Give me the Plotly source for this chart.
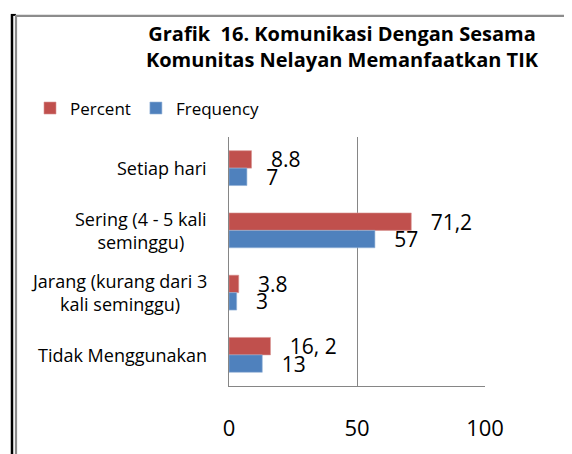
import plotly.graph_objects as go

categories = ["Setiap hari", "Sering (4 - 5 kali<br>seminggu)",
              "Jarang (kurang dari 3<br>kali seminggu)", "Tidak Menggunakan"]
percent = [8.8, 71.2, 3.8, 16.2]
frequency = [7, 57, 3, 13]
percent_labels = ["8.8", "71,2", "3.8", "16, 2"]
frequency_labels = ["7", "57", "3", "13"]
x_ticks = [0, 50, 100]

OFF = 8  # page body margin
W, H = 572 - OFF, 454 - OFF
L, R, T = 229 - OFF, 87, 137 - OFF
PW, PH = W - L - R, 257
B = H - T - PH

def px2x(px):
    return (px - OFF - L) / PW

def px2y(py):
    return 1 - (py - OFF - T) / PH

FONT = "Open Sans"
pad = "\u00a0\u00a0\u00a0"

fig = go.Figure()
fig.add_trace(go.Bar(
    y=categories, x=percent, orientation="h", name="Percent",
    marker=dict(color="#C0504D", line=dict(color="#D99694", width=0.6)),
    text=[pad + t for t in percent_labels], textposition="outside",
    constraintext="none", cliponaxis=False,
    textfont=dict(family=FONT, size=21, color="#000000"),
))
fig.add_trace(go.Bar(
    y=categories, x=frequency, orientation="h", name="Frequency",
    marker=dict(color="#4F81BD", line=dict(color="#95B3D7", width=0.6)),
    text=[pad + t for t in frequency_labels], textposition="outside",
    constraintext="none", cliponaxis=False,
    textfont=dict(family=FONT, size=21, color="#000000"),
))

annotations = []
for c in categories:
    annotations.append(dict(
        x=0, xref="paper", y=c, yref="y", text=c, showarrow=False,
        xanchor="right", yanchor="middle", align="center", xshift=-20,
        font=dict(family=FONT, size=18, color="#000000"),
    ))

shapes = [
    dict(type="line", xref="paper", yref="paper", x0=px2x(12), x1=px2x(12),
         y0=px2y(10), y1=px2y(470), line=dict(color="#000000", width=2.5)),
    dict(type="line", xref="paper", yref="paper", x0=px2x(11), x1=px2x(16),
         y0=px2y(11), y1=px2y(11), line=dict(color="#000000", width=2)),
    dict(type="line", xref="paper", yref="paper", x0=px2x(16), x1=px2x(16),
         y0=px2y(11), y1=px2y(470), line=dict(color="#8C8C8C", width=2.2)),
    dict(type="line", xref="paper", yref="paper", x0=px2x(15), x1=px2x(590),
         y0=px2y(12), y1=px2y(12), line=dict(color="#8C8C8C", width=2.2)),
]

fig.update_layout(
    width=W, height=H,
    margin=dict(l=L, r=R, t=T, b=B),
    paper_bgcolor="white", plot_bgcolor="white",
    barmode="group", bargap=0.44, bargroupgap=0,
    title=dict(
        text="<b>Grafik  16. Komunikasi Dengan Sesama<br>Komunitas Nelayan Memanfaatkan TIK</b>",
        xref="container", yref="container", x=(342 - OFF) / W, y=1 - 33 / H,
        xanchor="center", yanchor="middle",
        font=dict(family=FONT, size=20, color="#000000"),
    ),
    legend=dict(
        orientation="h", x=px2x(30), y=px2y(89), xanchor="left", yanchor="top",
        font=dict(family=FONT, size=17, color="#000000"),
        bgcolor="rgba(0,0,0,0)", traceorder="normal",
    ),
    xaxis=dict(
        range=[0, 100], tickvals=x_ticks, ticktext=[str(v) for v in x_ticks],
        showgrid=True, gridcolor="#868686", gridwidth=1.2,
        showline=True, linecolor="#868686", linewidth=1.2,
        zeroline=False, ticks="", ticklabelstandoff=22,
        tickfont=dict(family=FONT, size=22, color="#000000"),
        fixedrange=True,
    ),
    yaxis=dict(
        autorange="reversed", showticklabels=False, showgrid=False,
        showline=True, linecolor="#868686", linewidth=1.2, ticks="",
        fixedrange=True,
    ),
    annotations=annotations,
    shapes=shapes,
)

fig.write_html("out.html")
